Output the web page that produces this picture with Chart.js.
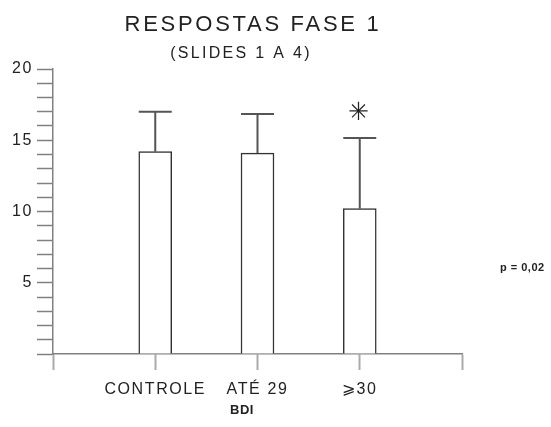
<!DOCTYPE html>
<html>
<head>
<meta charset="utf-8">
<script src="https://cdn.jsdelivr.net/npm/chart.js@4"></script>
<style>
  html, body { margin: 0; padding: 0; background: #fff; }
</style>
</head>
<body>
<canvas id="c" width="551" height="427"></canvas>
<script>
// Group means and standard deviations of the responses
const categories = ['CONTROLE', 'ATÉ 29', '⩾30'];
const means = [14.2, 14.1, 10.2];
const sd = [2.8, 2.75, 4.95];
const significant = [false, false, true];
const yLabelled = [5, 10, 15, 20];

const titleText = 'RESPOSTAS FASE 1';
const subtitleText = '(SLIDES 1 A 4)';
const axisTitleText = 'BDI';
const pNoteText = 'p = 0,02';

// Empty slots at both ends give the axis its margins
const labels = ['', ...categories, ''];
const barData = [null, ...means, null];

const INK = '#222';
const AXIS = '#808080';
const FONT = '"Liberation Sans", Arial, sans-serif';

// Wide letter spacing for the axis text
const spacing = {
  id: 'spacing',
  beforeDraw(chart) { chart.ctx.letterSpacing = '1.6px'; },
  afterDraw(chart) { chart.ctx.letterSpacing = '0px'; }
};

// Error bars (mean + SD) with caps as wide as the bars, plus significance star
const errorBars = {
  id: 'errorBars',
  afterDatasetsDraw(chart) {
    const { ctx, scales: { x, y } } = chart;
    const meta = chart.getDatasetMeta(0);
    ctx.save();
    ctx.letterSpacing = '0px';
    means.forEach((m, i) => {
      const bar = meta.data[i + 1];
      const half = bar.getProps(['width'], true).width / 2;
      const px = x.getPixelForValue(i + 1);
      const yBase = y.getPixelForValue(m);
      const yTop = y.getPixelForValue(m + sd[i]);
      ctx.strokeStyle = '#555';
      ctx.lineWidth = 2;
      ctx.beginPath();
      ctx.moveTo(px, yBase);
      ctx.lineTo(px, yTop);
      ctx.moveTo(px - half, yTop);
      ctx.lineTo(px + half, yTop);
      ctx.stroke();
      if (significant[i]) {
        ctx.fillStyle = '#222';
        ctx.font = '25px "DejaVu Sans", sans-serif';
        ctx.textAlign = 'center';
        ctx.textBaseline = 'middle';
        ctx.fillText('✳', px - 1, yTop - 25);
      }
    });
    ctx.restore();
  }
};

// Titles, axis caption and p-value note
const texts = {
  id: 'texts',
  afterDraw(chart) {
    const ctx = chart.ctx;
    ctx.save();
    ctx.fillStyle = INK;
    ctx.textBaseline = 'alphabetic';
    ctx.textAlign = 'center';

    ctx.letterSpacing = '2.7px';
    ctx.font = '22px ' + FONT;
    ctx.fillText(titleText, 253, 31);

    ctx.letterSpacing = '2.3px';
    ctx.font = '16px ' + FONT;
    ctx.fillText(subtitleText, 241, 58);

    ctx.letterSpacing = '0.5px';
    ctx.font = 'bold 13px ' + FONT;
    ctx.fillText(axisTitleText, 242, 414);

    ctx.textAlign = 'left';
    ctx.textBaseline = 'middle';
    ctx.font = 'bold 11px ' + FONT;
    ctx.fillText(pNoteText, 500, 268);
    ctx.restore();
  }
};

new Chart(document.getElementById('c'), {
  type: 'bar',
  data: {
    labels: labels,
    datasets: [{
      data: barData,
      backgroundColor: '#fff',
      borderColor: '#333',
      borderWidth: 1.5,
      borderSkipped: 'start',
      barThickness: 33
    }]
  },
  options: {
    responsive: false,
    animation: false,
    devicePixelRatio: 1,
    layout: { padding: { top: 69, right: 89, left: 0, bottom: 0 } },
    plugins: {
      legend: { display: false },
      tooltip: { enabled: false },
      title: { display: false }
    },
    scales: {
      x: {
        type: 'category',
        offset: false,
        afterFit(scale) { scale.height = 73; },
        grid: {
          offset: false,
          drawOnChartArea: false,
          drawTicks: true,
          tickLength: 16,
          tickColor: '#aaa',
          tickWidth: 2
        },
        border: { display: true, color: AXIS, width: 1.5 },
        ticks: {
          autoSkip: false,
          maxRotation: 0,
          padding: 10,
          color: INK,
          font: { family: FONT, size: 16 }
        }
      },
      y: {
        min: 0,
        max: 20,
        afterFit(scale) { scale.width = 53; },
        grid: {
          drawOnChartArea: false,
          drawTicks: true,
          tickLength: 16,
          tickColor: AXIS,
          tickWidth: 1.5
        },
        border: { display: true, color: AXIS, width: 1.5 },
        ticks: {
          stepSize: 1,
          autoSkip: false,
          padding: 4,
          color: INK,
          font: { family: FONT, size: 16 },
          callback: (v) => (yLabelled.includes(v) ? String(v) : '')
        }
      }
    }
  },
  plugins: [spacing, errorBars, texts]
});
</script>
</body>
</html>
